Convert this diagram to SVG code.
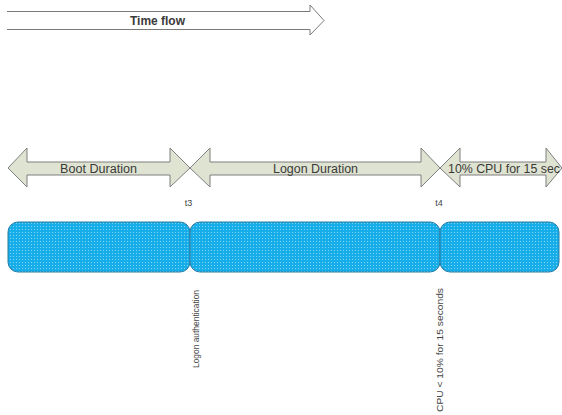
<svg xmlns="http://www.w3.org/2000/svg" width="562" height="415" viewBox="0 0 562 415">
<defs>
<pattern id="dots" width="3" height="3" patternUnits="userSpaceOnUse">
<rect width="3" height="3" fill="#17ade9"/>
<rect x="1" y="1" width="1" height="1" fill="#7fd3f5"/>
</pattern>
</defs>
<style>
.lbl{font-family:"Liberation Sans",Arial,sans-serif;fill:#3a3a3a;font-size:12px;text-anchor:middle}
.sm{font-family:"Liberation Sans",Arial,sans-serif;fill:#444;font-size:9px;text-anchor:middle}
.vt{font-family:"Liberation Sans",Arial,sans-serif;fill:#444;font-size:9px;text-anchor:middle}
.arr{fill:#dfe3d1;stroke:#7f7f7f;stroke-width:1}
.bar{fill:url(#dots);stroke:#2a7ca3;stroke-width:1}
</style>
<rect width="562" height="415" fill="#ffffff"/>
<g id="time-flow">
<path d="M7,11.5 L310,11.5 L310,5 L324,20.5 L310,35 L310,29.5 L7,29.5" fill="#ffffff" stroke="#7a7a7a" stroke-width="1"/>
<text class="lbl" x="157.5" y="24.5" font-weight="bold" fill="#4a4a4a" textLength="55" lengthAdjust="spacingAndGlyphs">Time flow</text>
</g>
<g id="boot-duration">
<polygon class="arr" points="8,168 27,148 27,162 170,162 170,148 190,168 170,187 170,175 27,175 27,187"/>
<text class="lbl" x="98.5" y="172.5" textLength="77" lengthAdjust="spacingAndGlyphs">Boot Duration</text>
</g>
<g id="logon-duration">
<polygon class="arr" points="190,168 210,148 210,162 421,162 421,148 440,168 421,187 421,175 210,175 210,187"/>
<text class="lbl" x="315.5" y="172.5" textLength="85" lengthAdjust="spacingAndGlyphs">Logon Duration</text>
</g>
<g id="cpu-duration">
<polygon class="arr" points="440,168 460,148 460,162 546,162 546,148 562,168 546,187 546,175 460,175 460,187"/>
<text class="lbl" x="504" y="172.5" textLength="112" lengthAdjust="spacingAndGlyphs">10% CPU for 15 sec</text>
</g>
<g id="t3"><text class="sm" x="188.5" y="206">t3</text></g>
<g id="t4"><text class="sm" x="439" y="206">t4</text></g>
<g id="bar-boot"><rect class="bar" x="8" y="222" width="182" height="50" rx="10"/></g>
<g id="bar-logon"><rect class="bar" x="190" y="222" width="250" height="50" rx="10"/></g>
<g id="bar-cpu"><rect class="bar" x="440" y="222" width="119" height="50" rx="10"/></g>
<g id="connectors"></g>
<g id="logon-auth"><text class="vt" transform="translate(199,329) rotate(-90)" textLength="78" lengthAdjust="spacingAndGlyphs">Logon authentication</text></g>
<g id="cpu-label"><text class="vt" transform="translate(443,350) rotate(-90)" textLength="124" lengthAdjust="spacingAndGlyphs">CPU &lt; 10% for 15 seconds</text></g>
</svg>
